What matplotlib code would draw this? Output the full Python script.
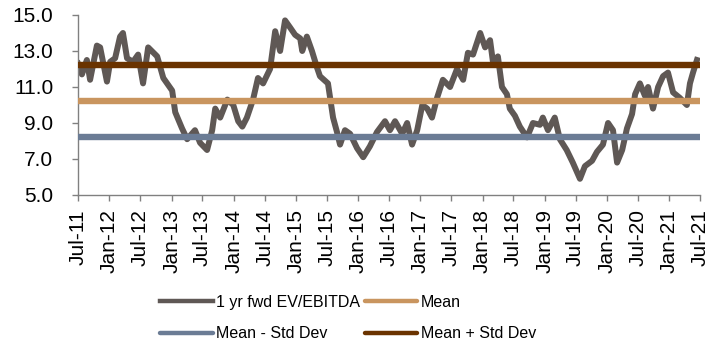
import matplotlib
matplotlib.use("Agg")
import matplotlib.pyplot as plt
import matplotlib.dates as mdates
import pandas as pd

plt.rcParams['font.family'] = ['Liberation Sans', 'DejaVu Sans']

dates = ["2011-07-01", "2011-07-24", "2011-08-22", "2011-09-10", "2011-10-20", "2011-11-08",
         "2011-12-18", "2012-01-06", "2012-02-04", "2012-03-04", "2012-03-21", "2012-04-14",
         "2012-05-19", "2012-06-18", "2012-07-17", "2012-08-16", "2012-10-08", "2012-11-13",
         "2013-01-04", "2013-01-22", "2013-03-03", "2013-04-02", "2013-05-18", "2013-06-17",
         "2013-07-28", "2013-08-27", "2013-09-14", "2013-10-13", "2013-11-24", "2013-12-29",
         "2014-01-27", "2014-02-20", "2014-03-19", "2014-04-24", "2014-05-23", "2014-06-22",
         "2014-08-02", "2014-09-01", "2014-09-30", "2014-10-29", "2014-11-28", "2014-12-27",
         "2015-01-26", "2015-02-07", "2015-03-06", "2015-04-05", "2015-05-04", "2015-05-22",
         "2015-07-08", "2015-08-07", "2015-08-30", "2015-09-17", "2015-10-16", "2015-11-15",
         "2015-12-26", "2016-01-31", "2016-03-10", "2016-04-21", "2016-06-07", "2016-07-06",
         "2016-08-05", "2016-09-16", "2016-10-15", "2016-11-13", "2016-12-13", "2017-01-12",
         "2017-02-10", "2017-03-10", "2017-04-09", "2017-05-13", "2017-06-24", "2017-08-04",
         "2017-09-09", "2017-10-07", "2017-11-06", "2017-12-18", "2018-01-16", "2018-02-14",
         "2018-03-03", "2018-04-01", "2018-04-25", "2018-05-24", "2018-06-10", "2018-07-10",
         "2018-08-08", "2018-09-19", "2018-10-24", "2018-12-04", "2018-12-21", "2019-01-20",
         "2019-03-01", "2019-03-31", "2019-05-10", "2019-06-15", "2019-07-27", "2019-08-25",
         "2019-10-06", "2019-11-04", "2019-12-09", "2020-01-08", "2020-02-06", "2020-03-01",
         "2020-03-31", "2020-04-28", "2020-05-28", "2020-06-15", "2020-07-13", "2020-08-12",
         "2020-08-30", "2020-09-28", "2020-10-28", "2020-11-26", "2020-12-25", "2021-01-24",
         "2021-03-04", "2021-04-15", "2021-05-03", "2021-05-21", "2021-06-13"]

ev_ebitda = [12.3, 11.7, 12.5, 11.4, 13.3, 13.2,
             11.3, 12.4, 12.6, 13.8, 14.0, 12.6,
             12.4, 12.8, 11.2, 13.2, 12.7, 11.5,
             10.8, 9.6, 8.7, 8.1, 8.6, 7.9,
             7.5, 8.6, 9.8, 9.3, 10.3, 10.0,
             9.1, 8.8, 9.3, 10.3, 11.5, 11.2,
             12.0, 14.1, 13.0, 14.7, 14.3, 13.9,
             13.7, 13.0, 13.8, 13.0, 12.1, 11.6,
             11.2, 9.3, 8.5, 7.8, 8.6, 8.4,
             7.6, 7.1, 7.7, 8.5, 9.1, 8.6,
             9.1, 8.4, 9.0, 7.8, 8.6, 10.0,
             9.8, 9.3, 10.4, 11.4, 11.0, 12.0,
             11.4, 12.9, 12.8, 14.0, 13.2, 13.6,
             12.4, 12.7, 11.0, 10.6, 9.8, 9.4,
             8.8, 8.2, 9.0, 8.9, 9.3, 8.6,
             9.3, 8.1, 7.5, 6.8, 5.9, 6.6,
             6.9, 7.4, 7.8, 9.0, 8.6, 6.8,
             7.5, 8.7, 9.5, 10.6, 11.2, 10.5,
             11.0, 9.8, 11.0, 11.6, 11.8, 10.7,
             10.4, 10.0, 11.2, 11.8, 12.5]

mean_val = 10.22
std_val = 1.98
period = ["2011-07-01", "2021-07-01"]

names = ["1 yr fwd EV/EBITDA", "Mean", "Mean - Std Dev", "Mean + Std Dev"]
colors = ["#5f5855", "#c9955f", "#6b7c95", "#6a3300"]

x = pd.to_datetime(dates)
px = pd.to_datetime(period)

fig = plt.figure(figsize=(7.21, 3.44), dpi=100)
ax = fig.add_axes([78/721, 1-195/344, 622/721, 180/344])

h0, = ax.plot(x, ev_ebitda, color=colors[0], lw=4.3, solid_joinstyle='round', zorder=2)
h1, = ax.plot(px, [mean_val, mean_val], color=colors[1], lw=4.6, solid_capstyle='round', zorder=3)
h2, = ax.plot(px, [mean_val - std_val]*2, color=colors[2], lw=4.6, solid_capstyle='round', zorder=3)
h3, = ax.plot(px, [mean_val + std_val]*2, color=colors[3], lw=4.6, solid_capstyle='round', zorder=3)

ax.set_xlim(px[0], px[1])
ax.set_ylim(5, 15)
ax.set_yticks([5, 7, 9, 11, 13, 15])
ax.yaxis.set_major_formatter(plt.FormatStrFormatter('%.1f'))
ax.xaxis.set_major_locator(mdates.MonthLocator(bymonth=[1, 7]))
ax.xaxis.set_major_formatter(mdates.DateFormatter('%b-%y'))

for s in ['top', 'right']:
    ax.spines[s].set_visible(False)
for s in ['left', 'bottom']:
    ax.spines[s].set_color('#808080')
    ax.spines[s].set_linewidth(1.0)

ax.tick_params(axis='y', direction='out', length=4.3, width=1, color='#808080',
               labelsize=15, pad=13.5, labelcolor='black')
ax.tick_params(axis='x', direction='out', length=4.3, width=1, color='#808080',
               labelsize=15, pad=6, labelcolor='black', labelrotation=90)

leg = fig.legend([h0, h2, h1, h3], [names[0], names[2], names[1], names[3]],
                 ncol=2, loc='center left', bbox_to_anchor=(160/721, 1-318/344),
                 frameon=False, fontsize=11.5, handlelength=3.3, handletextpad=0.2,
                 columnspacing=0.3, labelspacing=1.05, borderpad=0, borderaxespad=0)
for line in leg.get_lines():
    line.set_linewidth(3.2)

fig.savefig("out.png", dpi=100)
